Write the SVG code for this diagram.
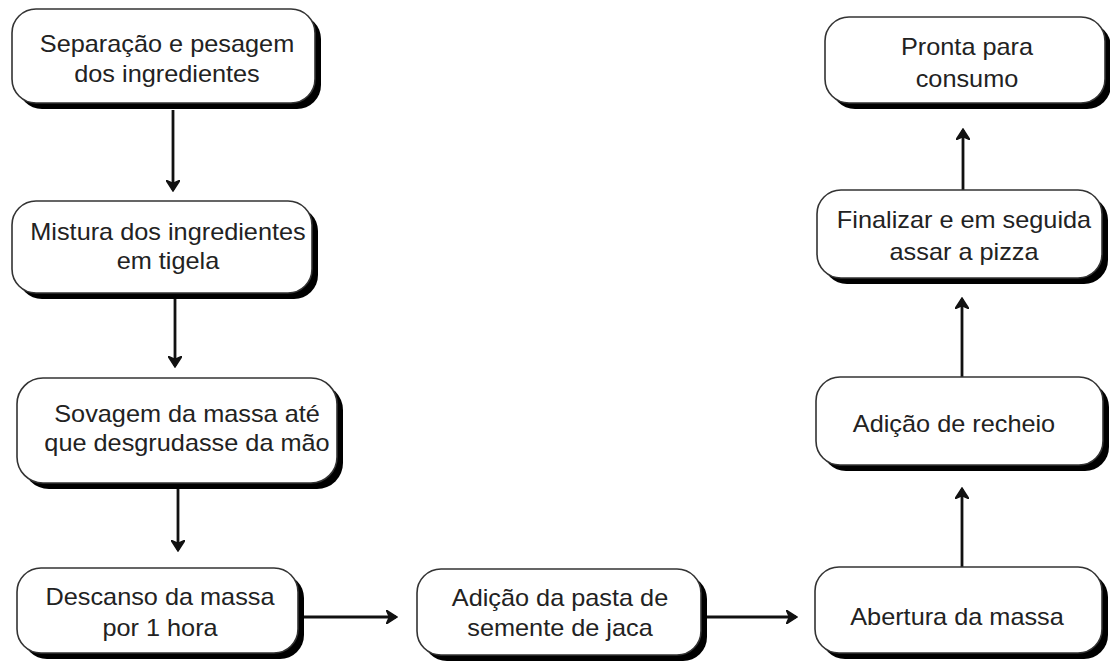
<svg xmlns="http://www.w3.org/2000/svg" width="1110" height="661" viewBox="0 0 1110 661">
<style>
.sh{fill:#000}
.bx{fill:#fff;stroke:#333;stroke-width:1.6}
.t{font-family:"Liberation Sans",Arial,sans-serif;font-size:23px;fill:#222;text-anchor:middle}
.c{stroke:#111;stroke-width:2.8;fill:none}
</style>
<defs>
<marker id="ah" markerUnits="userSpaceOnUse" viewBox="0 0 12 14" refX="10" refY="7" markerWidth="12" markerHeight="14" orient="auto">
<path d="M1.5,1.5 L10,7 L1.5,12.5 L4,7 z" fill="#111" stroke="#111" stroke-width="2.6" stroke-linejoin="miter"/>
</marker>
</defs>
<rect width="1110" height="661" fill="#fff"/>
<g id="connectors">
<line class="c" x1="173" y1="110" x2="173" y2="190" marker-end="url(#ah)"/>
<line class="c" x1="175" y1="299" x2="175" y2="366" marker-end="url(#ah)"/>
<line class="c" x1="178" y1="489" x2="178" y2="550" marker-end="url(#ah)"/>
<line class="c" x1="304" y1="617" x2="396" y2="617" marker-end="url(#ah)"/>
<line class="c" x1="707" y1="617" x2="796" y2="617" marker-end="url(#ah)"/>
<line class="c" x1="962" y1="567" x2="962" y2="489" marker-end="url(#ah)"/>
<line class="c" x1="962" y1="377" x2="962" y2="299" marker-end="url(#ah)"/>
<line class="c" x1="963" y1="190" x2="963" y2="130" marker-end="url(#ah)"/>
</g>
<g id="n1">
<rect class="sh" x="18" y="15" width="303" height="94" rx="24"/>
<rect class="bx" x="12" y="9" width="303" height="94" rx="24"/>
<text class="t" transform="translate(167 0) scale(1.1 1)" x="0" y="52">Separação e pesagem</text>
<text class="t" transform="translate(167 0) scale(1.1 1)" x="0" y="82">dos ingredientes</text>
</g>
<g id="n2">
<rect class="sh" x="18" y="207" width="300" height="92" rx="24"/>
<rect class="bx" x="12" y="201" width="300" height="92" rx="24"/>
<text class="t" transform="translate(168 0) scale(1.1 1)" x="0" y="240">Mistura dos ingredientes</text>
<text class="t" transform="translate(168 0) scale(1.1 1)" x="0" y="269">em tigela</text>
</g>
<g id="n3">
<rect class="sh" x="23" y="384" width="320" height="105" rx="26"/>
<rect class="bx" x="17" y="378" width="320" height="105" rx="26"/>
<text class="t" transform="translate(187 0) scale(1.1 1)" x="0" y="422">Sovagem da massa até</text>
<text class="t" transform="translate(187 0) scale(1.1 1)" x="0" y="451">que desgrudasse da mão</text>
</g>
<g id="n4">
<rect class="sh" x="23" y="574" width="281" height="85" rx="24"/>
<rect class="bx" x="17" y="568" width="281" height="85" rx="24"/>
<text class="t" transform="translate(160 0) scale(1.1 1)" x="0" y="605">Descanso da massa</text>
<text class="t" transform="translate(160 0) scale(1.1 1)" x="0" y="636">por 1 hora</text>
</g>
<g id="n5">
<rect class="sh" x="423" y="575" width="284" height="86" rx="24"/>
<rect class="bx" x="417" y="569" width="284" height="86" rx="24"/>
<text class="t" transform="translate(560 0) scale(1.1 1)" x="0" y="606">Adição da pasta de</text>
<text class="t" transform="translate(560 0) scale(1.1 1)" x="0" y="636">semente de jaca</text>
</g>
<g id="n6">
<rect class="sh" x="821" y="573" width="287" height="86" rx="24"/>
<rect class="bx" x="815" y="567" width="287" height="86" rx="24"/>
<text class="t" transform="translate(957 0) scale(1.1 1)" x="0" y="625">Abertura da massa</text>
</g>
<g id="n7">
<rect class="sh" x="822" y="383" width="287" height="88" rx="24"/>
<rect class="bx" x="816" y="377" width="287" height="88" rx="24"/>
<text class="t" transform="translate(954 0) scale(1.1 1)" x="0" y="432">Adição de recheio</text>
</g>
<g id="n8">
<rect class="sh" x="823" y="196" width="285" height="88" rx="24"/>
<rect class="bx" x="817" y="190" width="285" height="88" rx="24"/>
<text class="t" transform="translate(964 0) scale(1.1 1)" x="0" y="228">Finalizar e em seguida</text>
<text class="t" transform="translate(964 0) scale(1.1 1)" x="0" y="260">assar a pizza</text>
</g>
<g id="n9">
<rect class="sh" x="831" y="23" width="280" height="86" rx="24"/>
<rect class="bx" x="825" y="17" width="280" height="86" rx="24"/>
<text class="t" transform="translate(967 0) scale(1.1 1)" x="0" y="55">Pronta para</text>
<text class="t" transform="translate(967 0) scale(1.1 1)" x="0" y="87">consumo</text>
</g>
</svg>
